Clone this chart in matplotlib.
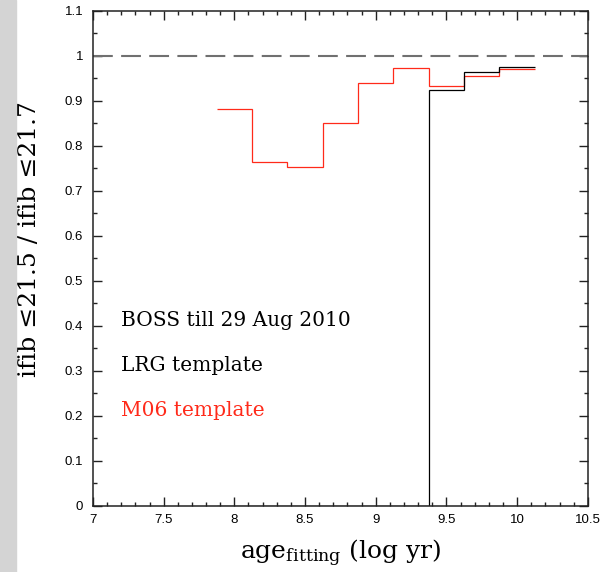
import numpy as np
import matplotlib
matplotlib.use('Agg')
import matplotlib.pyplot as plt
from matplotlib.ticker import MultipleLocator, FormatStrFormatter
from matplotlib.patches import Rectangle

# bin edges in log age, ratio per bin
edges = [7.875, 8.125, 8.375, 8.625, 8.875, 9.125, 9.375, 9.625, 9.875, 10.125]
m06_ratio = [0.883, 0.765, 0.753, 0.852, 0.939, 0.973, 0.933, 0.955, 0.971]
lrg_ratio = [0.0, 0.0, 0.0, 0.0, 0.0, 0.0, 0.925, 0.965, 0.976]

labels = ['BOSS till 29 Aug 2010', 'LRG template', 'M06 template']
label_y = [0.413, 0.313, 0.213]
red = '#ff2a1a'

plt.rcParams['mathtext.fontset'] = 'dejavuserif'

fig = plt.figure(figsize=(6.01, 5.72), dpi=100)
fig.patches.append(Rectangle((0, 0), 16 / 601, 1, transform=fig.transFigure,
                             color='#d4d4d4', zorder=0))
ax = fig.add_axes([0.1547, 0.1154, 0.8233, 0.8654])

ax.axhline(1.0, color='#707070', lw=1.5, dashes=(9.5, 4))
ax.stairs(m06_ratio, edges, baseline=None, color=red, lw=0.9)
ax.stairs(lrg_ratio, edges, baseline=None, color='black', lw=0.9)

for txt, yy, c in zip(labels, label_y, ['black', 'black', red]):
    ax.text(7.2, yy, txt, color=c, family='DejaVu Serif', fontsize=14.5,
            va='center', ha='left')

ax.set_xlim(7, 10.5)
ax.set_ylim(0, 1.1)
ax.xaxis.set_major_locator(MultipleLocator(0.5))
ax.xaxis.set_minor_locator(MultipleLocator(0.1))
ax.yaxis.set_major_locator(MultipleLocator(0.1))
ax.yaxis.set_minor_locator(MultipleLocator(0.05))
ax.xaxis.set_major_formatter(FormatStrFormatter('%g'))
ax.yaxis.set_major_formatter(FormatStrFormatter('%g'))
ax.tick_params(which='both', direction='in', top=True, right=True,
               colors='#222222', labelcolor='black', labelsize=9.5,
               labelfontfamily='Liberation Sans')
ax.tick_params(which='major', length=6.5, width=1)
ax.tick_params(which='minor', length=3.2, width=1)
ax.tick_params(axis='x', pad=6)
ax.tick_params(axis='y', pad=7)
for s in ax.spines.values():
    s.set_linewidth(1.1)
    s.set_color('#222222')

ax.set_ylabel('ifib \u226421.5 / ifib \u226421.7', family='DejaVu Serif',
              fontsize=18)
ax.yaxis.set_label_coords(-0.105, 0.54)
ax.set_xlabel(r'age$_{\rm fitting}$ (log yr)', family='DejaVu Serif',
              fontsize=18)
ax.xaxis.set_label_coords(0.5, -0.064)

fig.savefig('out.png', dpi=100)
